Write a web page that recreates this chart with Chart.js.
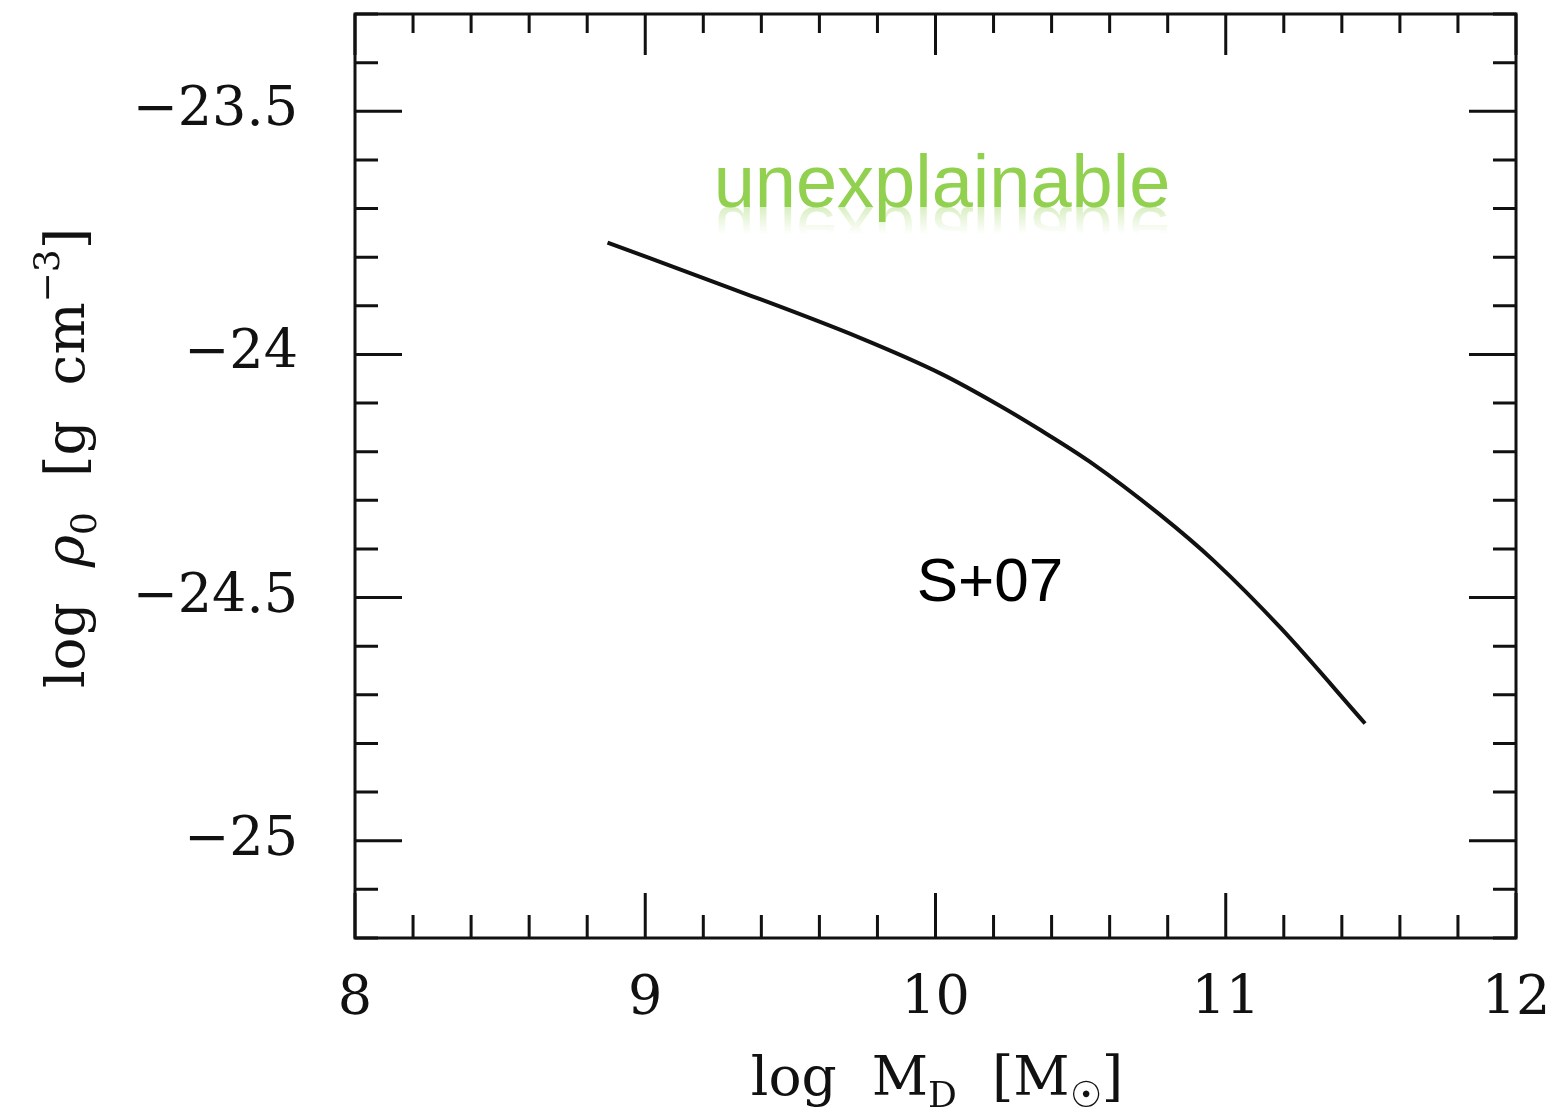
<!DOCTYPE html>
<html lang="en">
<head>
    <meta charset="UTF-8">
    <title>log rho0 vs log MD</title>
    <style>
        html, body { margin: 0; padding: 0; background: #fff; overflow: hidden; }
        .graph-container { width: 1563px; height: 1119px; }
    </style>
</head>
<body>

<div class="graph-container">
    <canvas id="rhoChart" width="1563" height="1119"></canvas>
</div>

<script src="https://cdn.jsdelivr.net/npm/chart.js"></script>
<script>
    // values
    const massLog = [8.87, 9.3, 9.74, 10.02, 10.22, 10.36, 10.53, 10.77, 10.96, 11.19, 11.48];
    const rhoLog = [-23.77, -23.865, -23.966, -24.04, -24.105, -24.155, -24.22, -24.328, -24.425, -24.563, -24.759];
    const xTicks = [8, 9, 10, 11, 12];
    const yTicks = [-23.5, -24, -24.5, -25];

    const serif = "'DejaVu Serif', 'Liberation Serif', serif";
    const sans = "'Liberation Sans', Arial, sans-serif";

    // draws text pieces (with sub/superscripts) centred on x
    function drawPieces(c, pieces, cx, baseY) {
        let w = 0;
        pieces.forEach(p => { c.font = p[1]; w += c.measureText(p[0]).width; });
        let x = cx - w / 2;
        pieces.forEach(p => {
            c.font = p[1];
            c.fillText(p[0], x, baseY + p[2]);
            x += c.measureText(p[0]).width;
        });
    }

    // frame, inside ticks on all four sides, titles and the two notes
    const framePlugin = {
        id: 'frame',
        afterDraw(chart) {
            const c = chart.ctx;
            const a = chart.chartArea;
            const xs = chart.scales.x, ys = chart.scales.y;
            c.save();
            c.strokeStyle = '#111';
            c.lineWidth = 3;
            c.strokeRect(a.left, a.top, a.right - a.left, a.bottom - a.top);

            c.beginPath();
            for (let i = 0; i <= 20; i++) {
                const v = 8 + i * 0.2;
                const len = (i % 5 === 0) ? 45 : 23;
                const px = xs.getPixelForValue(v);
                c.moveTo(px, a.bottom); c.lineTo(px, a.bottom - len);
                c.moveTo(px, a.top); c.lineTo(px, a.top + len - 4);
            }
            for (let i = 0; i <= 19; i++) {
                const v = -25.2 + i * 0.1;
                const major = Math.abs(v * 2 - Math.round(v * 2)) < 1e-6;
                const len = major ? 47 : 23;
                const py = ys.getPixelForValue(v);
                c.moveTo(a.left, py); c.lineTo(a.left + len, py);
                c.moveTo(a.right, py); c.lineTo(a.right - len, py);
            }
            c.stroke();

            c.fillStyle = '#111';
            c.textBaseline = 'alphabetic';
            c.textAlign = 'left';
            const big = '55px ' + serif, small = '36px ' + serif;

            // x title: log M_D [M_sun]
            drawPieces(c, [['log  M', big, 0], ['D', small, 12], ['  [M', big, 0], ['\u2609', small, 12], [']', big, 0]], 937, 1095);

            // y title, rotated: log rho_0 [g cm^-3]
            c.save();
            c.translate(84, 458);
            c.rotate(-Math.PI / 2);
            drawPieces(c, [['log  ', big, 0], ['\u03C1', 'italic ' + big, 0], ['0', small, 12], ['  [g  cm', big, 0], ['\u22123', small, -25], [']', big, 0]], 0, 0);
            c.restore();

            // S+07 label
            c.font = '62px ' + sans;
            c.fillStyle = '#000';
            c.textAlign = 'center';
            c.fillText('S+07', 990, 601);

            // green word with a faded reflection
            c.font = '74px ' + sans;
            c.fillStyle = '#92D050';
            c.fillText('unexplainable', 942, 207);
            c.save();
            c.translate(0, 414);
            c.scale(1, -1);
            const g = c.createLinearGradient(0, 207, 0, 180);
            g.addColorStop(0, 'rgba(146,208,80,0.35)');
            g.addColorStop(1, 'rgba(146,208,80,0)');
            c.fillStyle = g;
            c.fillText('unexplainable', 942, 207);
            c.restore();
            c.restore();
        }
    };

    const ctx = document.getElementById('rhoChart').getContext('2d');
    const rhoChart = new Chart(ctx, {
        type: 'line',
        data: {
            datasets: [{
                data: massLog.map((m, i) => ({ x: m, y: rhoLog[i] })),
                borderColor: '#111',
                borderWidth: 4,
                pointRadius: 0,
                cubicInterpolationMode: 'monotone',
                fill: false,
            }]
        },
        options: {
            responsive: false,
            animation: false,
            layout: { padding: { top: 14, right: 47, left: 0, bottom: 0 } },
            plugins: {
                legend: { display: false },
                tooltip: { enabled: false },
            },
            scales: {
                x: {
                    type: 'linear',
                    min: 8, max: 12,
                    grid: { display: false, drawTicks: false },
                    border: { display: false },
                    afterBuildTicks: s => { s.ticks = xTicks.map(v => ({ value: v })); },
                    afterFit: s => {
                        s.height = 181;
                        s.paddingLeft = 0; s.paddingRight = 0;
                    },
                    ticks: {
                        padding: 30,
                        color: '#111',
                        font: { family: serif, size: 54 },
                        maxRotation: 0,
                        callback: v => String(v),
                    },
                },
                y: {
                    type: 'linear',
                    min: -25.2, max: -23.3,
                    grid: { display: false, drawTicks: false },
                    border: { display: false },
                    afterBuildTicks: s => { s.ticks = yTicks.map(v => ({ value: v })); },
                    afterFit: s => {
                        s.width = 355;
                        s.paddingTop = 0; s.paddingBottom = 0;
                    },
                    ticks: {
                        padding: 57,
                        color: '#111',
                        font: { family: serif, size: 54 },
                        callback: v => '\u2212' + String(Math.abs(v)),
                    },
                },
            },
        },
        plugins: [framePlugin],
    });
</script>

</body>
</html>
